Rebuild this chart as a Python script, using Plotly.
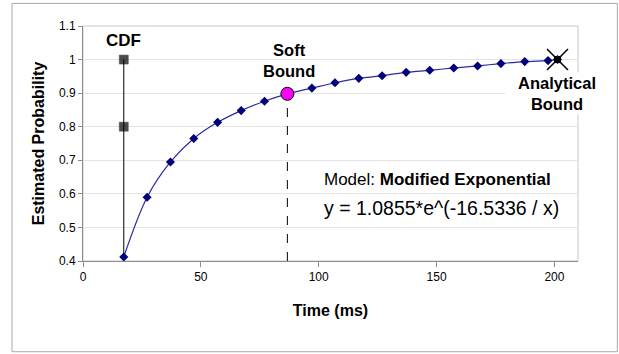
import plotly.graph_objects as go

# ---- data ----
time_ms = [17.3, 27.2, 37.1, 47.0, 57.1, 67.1, 77.0, 86.7, 97.1, 106.9, 117.0,
           126.9, 137.1, 147.1, 157.3, 167.4, 177.3, 187.4, 197.3, 201.3]
est_prob = [0.412, 0.590, 0.695, 0.765, 0.813, 0.848, 0.876, 0.898, 0.915, 0.931,
            0.944, 0.952, 0.962, 0.968, 0.975, 0.981, 0.988, 0.994, 0.997, 1.0]

cdf_x = [17.3, 17.3, 17.3]
cdf_y = [0.412, 0.8, 1.0]
cdf_marker_sizes = [0, 9, 9]

soft_x = [86.7]
soft_y = [0.898]
soft_floor = [0.4]

analytic_x = [201.3]
analytic_y = [1.0]

x_ticks = [0, 50, 100, 150, 200]
y_ticks = [0.4, 0.5, 0.6, 0.7, 0.8, 0.9, 1.0, 1.1]
y_tick_text = ["0.4", "0.5", "0.6", "0.7", "0.8", "0.9", "1", "1.1"]

FONT = "Liberation Sans, Arial, sans-serif"

fig = go.Figure()

# soft bound dashed drop line
fig.add_trace(go.Scatter(x=soft_x * 2, y=soft_floor + soft_y, mode="lines",
                         line=dict(color="black", width=1, dash="dash"),
                         showlegend=False, hoverinfo="skip", cliponaxis=False))

# CDF vertical line with square markers
fig.add_trace(go.Scatter(x=cdf_x, y=cdf_y, mode="lines+markers",
                         line=dict(color="black", width=1),
                         marker=dict(symbol="square", color="black", size=cdf_marker_sizes,
                                     line=dict(color="black", width=0.5)),
                         showlegend=False, cliponaxis=False))

# model curve
fig.add_trace(go.Scatter(x=time_ms, y=est_prob, mode="lines+markers",
                         line=dict(color="#2a2aa0", width=1.2, shape="spline"),
                         marker=dict(symbol="diamond", color="#00007a", size=7),
                         showlegend=False, cliponaxis=False))

# soft bound point
fig.add_trace(go.Scatter(x=soft_x, y=soft_y, mode="markers",
                         marker=dict(symbol="circle", color="#ff00ff", size=13,
                                     line=dict(color="black", width=1)),
                         showlegend=False, cliponaxis=False))

# analytical bound
fig.add_trace(go.Scatter(x=analytic_x, y=analytic_y, mode="markers",
                         marker=dict(symbol="square", color="black", size=7),
                         showlegend=False, cliponaxis=False))
fig.add_trace(go.Scatter(x=analytic_x, y=analytic_y, mode="markers",
                         marker=dict(symbol="x-thin-open", size=21, color="black",
                                     line=dict(color="black", width=1.5)),
                         showlegend=False, cliponaxis=False))

fig.update_layout(
    width=619, height=354,
    margin=dict(l=83, r=41, t=26, b=93),
    paper_bgcolor="white", plot_bgcolor="white",
    font=dict(family=FONT, color="black"),
    xaxis=dict(range=[0, 210], tickvals=x_ticks, showgrid=False, zeroline=False,
               showline=True, linecolor="#8c8c8c", linewidth=1,
               ticks="outside", ticklen=5, tickcolor="#8c8c8c",
               tickfont=dict(size=12, family=FONT),
               title=dict(text="<b>Time (ms)</b>", font=dict(size=16, family=FONT), standoff=21)),
    yaxis=dict(range=[0.4, 1.1], tickvals=y_ticks, ticktext=y_tick_text,
               showgrid=True, gridcolor="#e4e4e4", gridwidth=1, zeroline=False,
               showline=True, linecolor="#8c8c8c", linewidth=1,
               ticks="outside", ticklen=4, tickcolor="#8c8c8c",
               tickfont=dict(size=12, family=FONT),
               title=dict(text="<b>Estimated Probability</b>", font=dict(size=16, family=FONT), standoff=10)),
    shapes=[
        # plot area border (top/right)
        dict(type="rect", xref="paper", yref="paper", x0=0, x1=1, y0=0, y1=1,
             line=dict(color="#c8c8c8", width=1), layer="below"),
        # outer chart border
        dict(type="rect", xref="paper", yref="paper", x0=-0.1434, x1=1.0795,
             y0=-0.386, y1=1.096, line=dict(color="#a8a8a8", width=1)),
    ],
    annotations=[
        dict(x=17.3, y=1.058, xref="x", yref="y", text="<b>CDF</b>", showarrow=False,
             font=dict(size=17, family=FONT)),
        dict(x=87.5, y=0.997, xref="x", yref="y", text="<b>Soft<br>Bound</b>", showarrow=False,
             font=dict(size=16.5, family=FONT)),
        dict(x=201.3, y=0.9, xref="x", yref="y", text="<b>Analytical<br>Bound</b>", showarrow=False,
             bgcolor="white", width=100, borderpad=1, font=dict(size=16.5, family=FONT)),
        dict(x=0.4825, y=0.345, xref="paper", yref="paper", xanchor="left", yanchor="middle",
             text="Model: <b>Modified Exponential</b>", showarrow=False,
             font=dict(size=17, family=FONT)),
        dict(x=0.4825, y=0.225, xref="paper", yref="paper", xanchor="left", yanchor="middle",
             text="y = 1.0855*e^(-16.5336 / x)", showarrow=False,
             font=dict(size=19.5, family=FONT)),
    ],
)

fig.write_html("out.html")
